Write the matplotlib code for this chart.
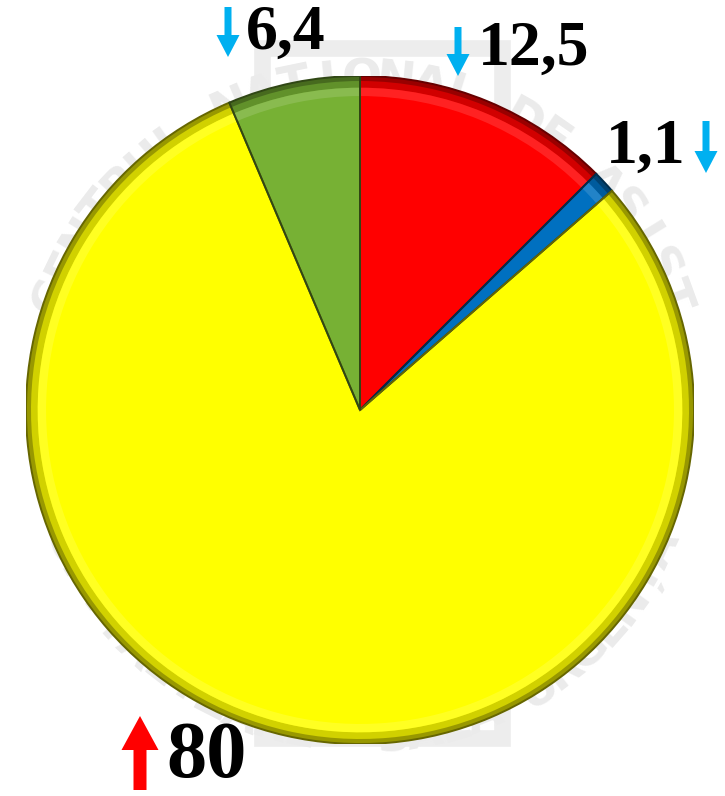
import numpy as np
import matplotlib
matplotlib.use("Agg")
import matplotlib.pyplot as plt
from matplotlib.patches import FancyArrow, Wedge
from matplotlib.colors import to_rgb

# ---- data ----
categories = ["Roșu", "Albastru", "Galben", "Verde"]
values = [12.5, 1.1, 80, 6.4]
labels = ["12,5", "1,1", "80", "6,4"]
trend = ["down", "down", "up", "down"]
colors = ["#ff0000", "#0070c0", "#ffff00", "#77b134"]

W, H = 725, 796
fig = plt.figure(figsize=(W / 100, H / 100), dpi=100)
fig.patch.set_facecolor("white")

# overlay axes in pixel coordinates (for labels, arrows)
ov = fig.add_axes([0, 0, 1, 1], zorder=3)
ov.set_xlim(0, W)
ov.set_ylim(H, 0)
ov.axis("off")
ov.patch.set_alpha(0)

# background watermark axes
bg = fig.add_axes([0, 0, 1, 1], zorder=0)
bg.set_xlim(0, W)
bg.set_ylim(H, 0)
bg.axis("off")

def arc_text(ax, text, cx, cy, r, a0, a1, size, top=True):
    n = len(text)
    angs = np.linspace(a0, a1, n)
    for ch, a in zip(text, angs):
        x = cx + r * np.cos(np.radians(a))
        y = cy - r * np.sin(np.radians(a))
        rot = a - 90 if top else a + 90
        ax.text(x, y, ch, rotation=rot, ha="center", va="center",
                fontsize=size, color="#ebebeb", fontweight="bold",
                family="DejaVu Sans")

arc_text(bg, "CENTRUL NAȚIONAL DE ASIST", 362, 410, 330, 160, 20, 34, top=True)
arc_text(bg, "SPITALIZARE  SALA URGENȚĂ", 362, 410, 330, 205, 335, 34, top=False)
bg.add_patch(plt.Rectangle((262, 48), 240, 690, fill=False, ec="#ededed", lw=12))

# pie axes
cx, cy, R = 360, 410, 334
ax = fig.add_axes([(cx - R) / W, (H - cy - R) / H, 2 * R / W, 2 * R / H], zorder=2)
ax.patch.set_alpha(0)

def darker(c, f):
    r, g, b = to_rgb(c)
    return (r * f, g * f, b * f)

def lighter(c, f):
    r, g, b = to_rgb(c)
    return (r + (1 - r) * f, g + (1 - g) * f, b + (1 - b) * f)

wedges, _ = ax.pie(values, colors=colors, startangle=90, counterclock=False,
                   radius=1.0, wedgeprops=dict(edgecolor="none"))

# bevel effect
for w, c in zip(wedges, colors):
    t1, t2 = w.theta1, w.theta2
    for rin, rout, col, al in [
            (0.965, 1.0, darker(c, 0.6), 0.45),
            (0.985, 1.0, darker(c, 0.45), 0.6),
            (0.94, 0.965, lighter(c, 0.3), 0.45)]:
        ax.add_patch(Wedge((0, 0), rout, t1, t2, width=rout - rin,
                           facecolor=col, edgecolor="none", alpha=al))
    ax.add_patch(Wedge((0, 0), 1.0, t1, t2, facecolor="none",
                       edgecolor=darker(c, 0.4), lw=1.4))

ax.set_xlim(-1, 1)
ax.set_ylim(-1, 1)
ax.set_aspect("equal")
ax.axis("off")

# labels
lab_pos = {
    "12,5": (478, 50),
    "1,1": (606, 148),
    "80": (166, 758),
    "6,4": (246, 34),
}
lab_size = {"12,5": 46, "1,1": 46, "80": 58, "6,4": 46}
for lab in labels:
    x, y = lab_pos[lab]
    ov.text(x, y, lab, ha="left", va="center", fontsize=lab_size[lab],
            fontweight="bold", family="Liberation Serif", color="black")

# arrows (x, y_tail, y_head)
arrow_pos = {
    "12,5": (458, 27, 76),
    "1,1": (706, 121, 173),
    "6,4": (228, 7, 57),
    "80": (140, 790, 716),
}
for lab, t in zip(labels, trend):
    x, y0, y1 = arrow_pos[lab]
    if t == "down":
        ov.add_patch(FancyArrow(x, y0, 0, y1 - y0, width=7, head_width=23,
                                head_length=22, length_includes_head=True,
                                color="#00b0f0", lw=0))
    else:
        ov.add_patch(FancyArrow(x, y0, 0, y1 - y0, width=13, head_width=37,
                                head_length=34, length_includes_head=True,
                                color="#ff0000", lw=0))

fig.savefig("out.png", dpi=100)
